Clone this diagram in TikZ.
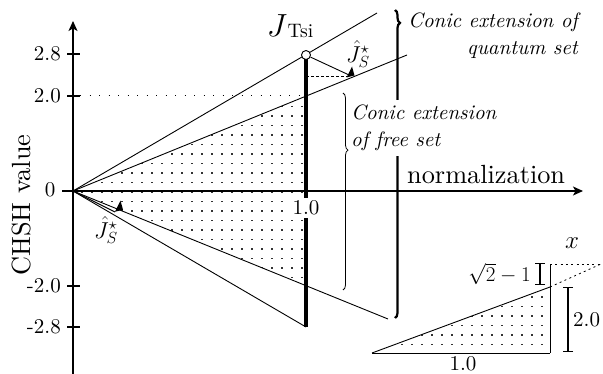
\RequirePackage{fix-cm}
\documentclass[tikz,border=0pt]{standalone}
\usepackage{graphicx}
\usepackage{fontspec}
\setmainfont{lmroman10-regular.otf}[ItalicFont=lmroman10-italic.otf,BoldFont=lmroman10-bold.otf]
\usetikzlibrary{arrows.meta,decorations.pathreplacing}
\begin{document}
\begin{tikzpicture}[x=1pt,y=-1pt,
  axis/.style={line width=1.1pt},
  cone/.style={line width=0.9pt},
  thickbar/.style={line width=3.6pt},
  ticklab/.style={anchor=east,inner sep=0pt,font=\fontsize{21}{24}\selectfont},
  lbl/.style={inner sep=1pt,font=\fontsize{20}{24}\selectfont},
  numlbl/.style={inner sep=1pt,font=\fontsize{21}{24}\selectfont},
  biglbl/.style={inner sep=0pt,font=\fontsize{26.3}{30}\selectfont},
  itlab/.style={font=\fontsize{20.8}{26.5}\selectfont\itshape, inner sep=0pt},
  dotcell/.style={fill=black!80},
  marker/.style={fill=black},
  bracedec/.style={decorate,decoration={brace,amplitude=5pt,aspect=#1}},
  axtip/.style={-{Stealth[length=10pt,width=9pt,inset=2.5pt]}},
  dimbar/.style={line width=1.1pt,{Bar[width=10pt]}-{Bar[width=10pt]}},
  sparsedot/.style={line width=1pt,dash pattern=on 1.2pt off 8.3pt},
  finedash/.style={line width=0.8pt,dash pattern=on 2pt off 3.3pt},
  projdash/.style={line width=0.8pt,dash pattern=on 3pt off 2pt},
]
\useasboundingbox (0,0) rectangle (603,374);

% key points
\coordinate (O) at (73,191);
\coordinate (Q1) at (306,55);
\coordinate (F1) at (306,96);
\coordinate (F2) at (306,286);
\coordinate (Q2) at (306,327);
\coordinate (QE) at (377,13);
\coordinate (FE) at (407,55);
\coordinate (FLE) at (388,319);

% dotted free region
\begin{scope}
  \clip (O) -- (F1) -- (F2) -- cycle;
  \foreach \i in {0,...,23}{\foreach \j in {0,...,20}{
    \fill[dotcell] (80.8+10*\i,96.1+9.5*\j) rectangle +(1.8,1.8);}}
\end{scope}

% axes
\coordinate (yb) at (73,374);
\coordinate (yt) at (73,21);
\coordinate (xl) at (62,191);
\coordinate (xr) at (583,191);
\draw[axis,axtip] (yb) -- (yt);
\draw[axis,axtip] (xl) -- (xr);

% ticks
\foreach \y/\t/\n in {54/2.8/a,96/2.0/b,286/-2.0/c,327/-2.8/d}{
  \coordinate (tl\n) at (67,\y);
  \coordinate (tr\n) at (80,\y);
  \draw[axis] (tl\n) -- (tr\n);
  \node[ticklab] (tk\n) at (61,\y) {\t};
}
\node[ticklab] (tkz) at (55.5,190) {0};

% dotted level 2.0
\coordinate (lv) at (80,96);
\draw[sparsedot] (lv) -- (F1);

% cone lines
\draw[cone] (O) -- (QE);
\draw[cone] (O) -- (FE);
\draw[cone] (O) -- (FLE);
\draw[cone] (O) -- (Q2);

% thick vertical line at normalization 1.0
\draw[thickbar] (Q1) -- (Q2);
\node[numlbl,fill=white,inner sep=2.5pt] (one) at (306,208) {1.0};

% projection upper
\coordinate (S1) at (350,77);
\coordinate (S1a) at (348,74.5);
\coordinate (D1) at (306,76);
\coordinate (D2) at (347,76);
\draw[projdash] (D1) -- (D2);
\node[circle,draw,fill=white,minimum size=9pt,inner sep=0pt,line width=0.9pt] (J) at (Q1) {};
\draw[cone] (J) -- (S1a);
\fill[marker] (S1) ++(-3.5,0.5) -- ++(8,-2) -- ++(-2.5,-9) -- cycle;
\node[lbl,anchor=base] (Jl) at (290,37) {\scalebox{1.6}{$J$}\kern0.5pt\raisebox{-1pt}{\fontsize{19.5}{22}\selectfont Tsi}};
\node[lbl] (JS1) at (358,54) {\scalebox{1.15}{$\hat{J}_S^\star$}};

% projection lower
\coordinate (S2) at (118.5,211.2);
\coordinate (S2b) at (115,212);
\draw[cone] (O) -- (S2b);
\fill[marker] (S2) ++(-3.5,0.5) -- ++(8,-2) -- ++(-2.5,-9) -- cycle;
\node[lbl] (JS2) at (106,230) {\scalebox{1.15}{$\hat{J}_S^\star$}};

% braces
\coordinate (qb1) at (395,10);
\coordinate (qb2) at (395,318);
\coordinate (fb1) at (343,93);
\coordinate (fb2) at (343,290);
\draw[line width=2.2pt,bracedec=0.042] (qb1) -- (qb2);
\draw[line width=0.8pt,bracedec=0.29] (fb1) -- (fb2);

% texts
\node[itlab,align=right,anchor=north east] (qt) at (578,13) {Conic extension of\\quantum set};
\node[itlab,align=left,anchor=north west,fill=white,inner xsep=2pt,inner ysep=5pt] (ft) at (349,100) {Conic extension\\of free set};
\node[biglbl,anchor=base west] (nl) at (407,184) {normalization};
\node[biglbl,rotate=90] (cl) at (22,205) {CHSH value};

% small triangle
\coordinate (A) at (372,353);
\coordinate (B) at (550,353);
\coordinate (C) at (550,287);
\coordinate (D) at (550,264);
\coordinate (E) at (601,264);
\begin{scope}
  \clip (A) -- (B) -- (C) -- cycle;
  \foreach \i in {0,...,18}{\foreach \j in {0,...,7}{
    \fill[dotcell] (370.8+10*\i,286.6+9.5*\j) rectangle +(1.8,1.8);}}
\end{scope}
\draw[cone] (A) -- (C);
\draw[cone] (A) -- (B);
\draw[cone] (B) -- (D);
\draw[finedash] (C) -- (E);
\draw[finedash] (D) -- (E);

\coordinate (b1t) at (540,263);
\coordinate (b1b) at (540,285);
\coordinate (b2t) at (568,287);
\coordinate (b2b) at (568,352);
\draw[dimbar] (b1t) -- (b1b);
\draw[dimbar] (b2t) -- (b2b);
\node[numlbl,anchor=east] (l1) at (532,274) {$\sqrt{2}-1$};
\node[numlbl,anchor=west] (l2) at (572,320) {2.0};
\node[numlbl,inner sep=0pt] (l3) at (463,364) {1.0};
\node[lbl] (lx) at (572,243) {\scalebox{1.25}{$x$}};
\end{tikzpicture}
\end{document}
